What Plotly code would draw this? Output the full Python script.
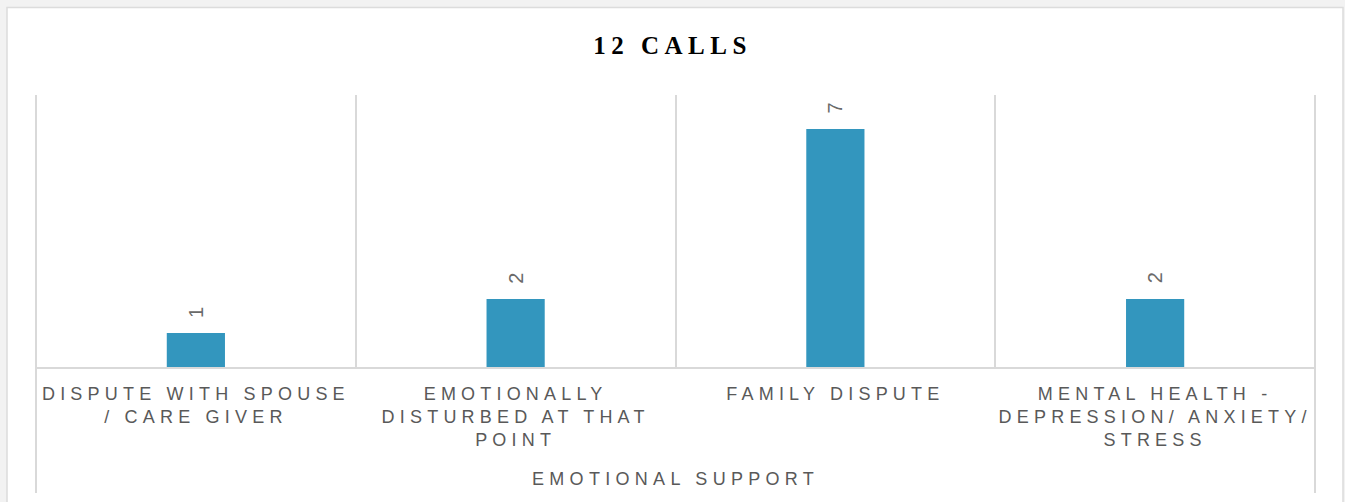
import plotly.graph_objects as go

# ---- data ----
title_text = "12 CALLS"
group_label = "EMOTIONAL SUPPORT"
categories = [
    "Dispute with spouse / care giver",
    "Emotionally disturbed at that point",
    "Family dispute",
    "Mental health - depression/ anxiety/ stress",
]
tick_lines = [
    ["DISPUTE WITH SPOUSE", "/ CARE GIVER"],
    ["EMOTIONALLY", "DISTURBED AT THAT", "POINT"],
    ["FAMILY DISPUTE"],
    ["MENTAL HEALTH -", "DEPRESSION/ ANXIETY/", "STRESS"],
]
calls = [1, 2, 7, 2]

# ---- layout geometry ----
W, H = 1345, 502
L, R, T, B = 36, 30, 95, 135
pw = W - L - R
ph = H - T - B


def px(x):
    return (x - L) / pw


def py(y):
    return (H - B - y) / ph


def spaced(s, sp):
    return f"<span style='letter-spacing:{sp}px'>{s}</span>"


GRAY = "#595959"
LINE = "#d9d9d9"
BAR = "#3396be"

ticktext = ["<br>".join(spaced(l, 5.2) for l in lines) for lines in tick_lines]

fig = go.Figure(
    go.Bar(
        x=categories,
        y=calls,
        marker=dict(color=BAR, line=dict(width=0)),
        width=0.182,
        hoverinfo="skip",
    )
)

for c, v in zip(categories, calls):
    fig.add_annotation(
        x=c, y=v, text=str(v), textangle=-90, showarrow=False,
        yanchor="middle", xanchor="center", yshift=21,
        font=dict(family="Liberation Sans", size=20, color="#6a6a6a"),
    )

fig.add_annotation(
    xref="paper", yref="paper", x=0.5, y=py(479),
    text=spaced(group_label, 5.3), showarrow=False,
    xanchor="center", yanchor="middle",
    font=dict(family="Liberation Sans", size=18, color=GRAY),
)

shapes = [
    dict(type="rect", xref="paper", yref="paper", x0=px(7), x1=px(1343), y0=py(7.5), y1=py(520),
         fillcolor="white", line=dict(color="#dcdcdc", width=1.5), layer="below"),
    dict(type="line", xref="paper", yref="paper", x0=px(36), x1=px(36), y0=1, y1=py(493),
         line=dict(color=LINE, width=2), layer="below"),
    dict(type="line", xref="paper", yref="paper", x0=px(1315), x1=px(1315), y0=1, y1=py(493),
         line=dict(color=LINE, width=2), layer="below"),
]

fig.update_layout(
    width=W, height=H,
    margin=dict(l=L, r=R, t=T, b=B, autoexpand=False),
    paper_bgcolor="#f2f2f2",
    plot_bgcolor="white",
    showlegend=False,
    shapes=shapes,
    title=dict(
        text=spaced("<b>" + title_text + "</b>", 5.5),
        font=dict(family="Liberation Serif", size=25, color="black"),
        x=0.5, xref="container", xanchor="center",
        y=1 - 45 / H, yref="container", yanchor="middle",
    ),
    xaxis=dict(
        type="category",
        tickvals=categories, ticktext=ticktext,
        tickson="boundaries", ticks="", tickangle=0,
        showgrid=True, gridcolor=LINE, gridwidth=2,
        showline=True, linecolor=LINE, linewidth=2,
        tickfont=dict(family="Liberation Sans", size=18, color=GRAY),
        ticklabelstandoff=9,
        range=[-0.5, 3.5], fixedrange=True,
    ),
    yaxis=dict(
        range=[0, 8], visible=False, showgrid=False, zeroline=False, fixedrange=True,
    ),
)

fig.write_html(
    "out.html",
    config={"displayModeBar": False},
    post_script="document.body.style.margin='0';document.body.style.overflow='hidden';",
)
